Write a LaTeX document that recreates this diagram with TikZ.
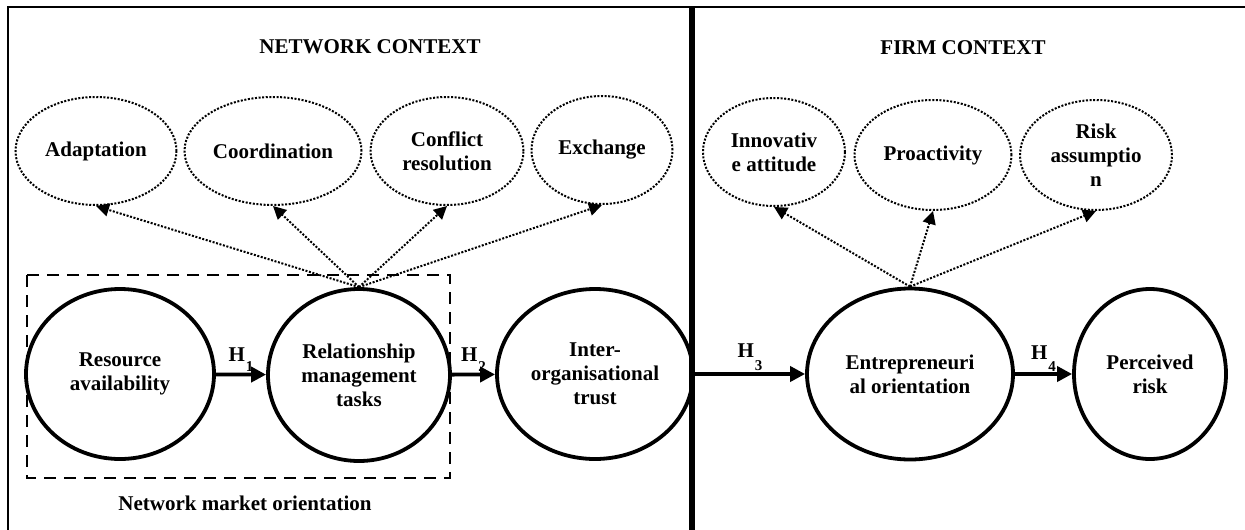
\documentclass[tikz,border=0pt]{standalone}
\usepackage{fontspec}
\setmainfont{Liberation Serif}
\usetikzlibrary{shapes.geometric,arrows.meta}

\newcommand{\hsub}[2]{H\hspace{1pt}\raisebox{#1}{\fontsize{15}{16}\selectfont\bfseries #2}}

\begin{document}
\begin{tikzpicture}[x=1pt,y=-1pt,
		every node/.style={font=\fontsize{21}{24}\selectfont\bfseries},
		construct/.style={ellipse,draw,line width=3.8pt,inner sep=0pt,align=center},
		dimension/.style={ellipse,draw,line width=2pt,dash pattern=on 2pt off 1.6pt,inner sep=0pt,align=center},
		hyp/.style={line width=3.8pt,-{Triangle[length=15pt,width=15pt]}},
		facet/.style={line width=2pt,dash pattern=on 2pt off 1.6pt,-{Triangle[length=13pt,width=13pt]}},
		hlabel/.style={font=\fontsize{21}{24}\selectfont\bfseries,inner sep=1pt}]
		\useasboundingbox (0,0) rectangle (1245,530);

		% frame and the line between both contexts
		\draw[line width=2.4pt] (8,530) -- (8,7) -- (1250,7);
		\draw[line width=6pt] (692,7) -- (692,530);

		\node at (370,47) {NETWORK CONTEXT};
		\node at (963,48) {FIRM CONTEXT};

		% network dimensions
		\node[dimension,minimum width=161,minimum height=108] (adapt) at (96,151) {Adaptation};
		\node[dimension,minimum width=177,minimum height=108] (coord) at (273,151) {Coordination};
		\node[dimension,minimum width=153,minimum height=108] (confl) at (447,151) {Conflict\\resolution};
		\node[dimension,minimum width=141,minimum height=108] (exch) at (602,150) {Exchange};

		% firm dimensions
		\node[dimension,minimum width=142,minimum height=108] (innov) at (774,152) {Innovativ\\e attitude};
		\node[dimension,minimum width=157,minimum height=110] (proact) at (933,155) {Proactivity};
		\node[dimension,minimum width=152,minimum height=110] (riskas) at (1096,155) {Risk\\assumptio\\n};

		% main constructs
		\node[construct,minimum width=188,minimum height=170] (res) at (120,374) {Resource\\availability};
		\node[construct,minimum width=182,minimum height=172] (rel) at (359,375) {Relationship\\management\\tasks};
		\node[construct,minimum width=196,minimum height=170] (trust) at (595,374) {Inter-\\organisational\\trust};
		\node[construct,minimum width=206,minimum height=171] (eo) at (910,374) {Entrepreneuri\\al orientation};
		\node[construct,minimum width=152,minimum height=170] (risk) at (1150,374) {Perceived\\risk};

		% network market orientation
		\draw[line width=2.5pt,dash pattern=on 12pt off 8pt] (27,275) rectangle (450,478);
		\node at (245,503) {Network market orientation};

		% hypotheses
		\draw[hyp] (res) -- (rel) node[midway,above=0pt,hlabel] {\hsub{-1.0ex}{1}};
		\draw[hyp] (rel) -- (trust) node[midway,above=0pt,hlabel] {\hsub{-1.0ex}{2}};
		\draw[hyp] (trust) -- (eo) node[midway,above=0pt,hlabel] {\hsub{-1.4ex}{3}};
		\draw[hyp] (eo) -- (risk) node[midway,above=0pt,hlabel] {\hsub{-1.2ex}{4}};

		% facets
		\foreach \d in {adapt,coord,confl,exch}
			\draw[facet] (rel.north) -- (\d.south);
		\foreach \d in {innov,proact,riskas}
			\draw[facet] (eo.north) -- (\d.south);
	\end{tikzpicture}
\end{document}
